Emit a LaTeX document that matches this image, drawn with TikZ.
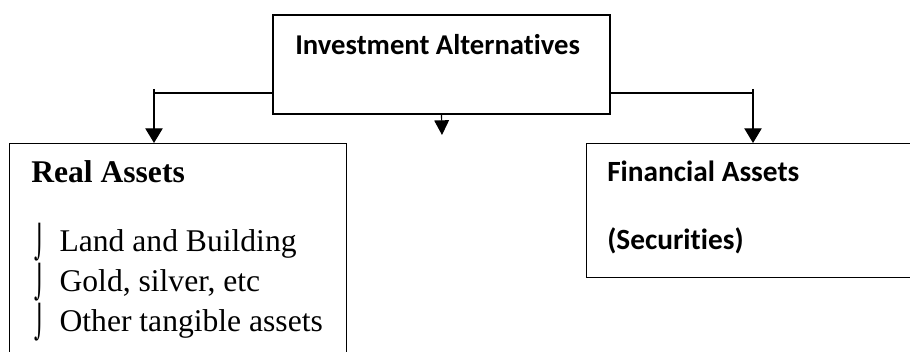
\documentclass[tikz,border=0pt]{standalone}
\usepackage{graphicx}
\usepackage{fontspec}
\setmainfont{Liberation Serif}
\newfontfamily\calibri[Ligatures=NoCommon]{Carlito}
\newfontfamily\dejavu{DejaVu Sans}
\usetikzlibrary{arrows.meta}
\newcommand{\hookbullet}{\makebox[19pt][l]{\raisebox{-1.5pt}{\scalebox{0.65}[1.02]{\dejavu ⌡}}}}

\begin{document}
\begin{tikzpicture}[x=0.75pt,y=-0.75pt,
      box/.style={draw,line width=0.9pt,inner sep=0pt},
      arrow/.style={line width=0.9pt,-{Triangle[width=13pt,length=11pt]}},
      sans/.style={font=\calibri\fontsize{21.5}{26}\selectfont\bfseries,inner sep=0pt},
      serif/.style={font=\fontsize{23.7}{28}\selectfont,inner sep=0pt}]
      \clip (0,0) rectangle (910,352);
      % boxes
      \node (invest)[box,minimum width=337*0.75pt,minimum height=99*0.75pt] at (441.5,64.5) {};
      \node (real)[box,minimum width=337*0.75pt,minimum height=240*0.75pt,anchor=north west] at (9,143) {};
      \node (fin)[box,minimum width=340*0.75pt,minimum height=134*0.75pt,anchor=north west] at (586,143) {};
      % texts
      \node (investtext)[sans,anchor=base west] at (295,55) {Investment Alternatives};
      \node (realtext)[serif,font=\fontsize{23.7}{28}\selectfont\bfseries,anchor=base west] at (31,183) {Real Assets};
      \node (land)[serif,anchor=base west] at (34,252) {\hookbullet Land and Building};
      \node (gold)[serif,anchor=base west] at (34,292) {\hookbullet Gold, silver, etc};
      \node (other)[serif,anchor=base west] at (34,332) {\hookbullet Other tangible assets};
      \node (fintext)[sans,font=\calibri\fontsize{22}{26}\selectfont\bfseries,anchor=base west] at (607,182) {Financial Assets};
      \node (sectext)[sans,font=\calibri\fontsize{22}{26}\selectfont\bfseries,anchor=base west] at (607,250) {(Securities)};
      % connectors
      \coordinate (ljoin) at (154,93);
      \coordinate (rjoin) at (753,93);
      \coordinate (mid) at (442,135);
      \draw[line width=0.9pt] (invest.west |- ljoin) -- (ljoin);
      \draw[arrow] ([yshift=3pt]ljoin) -- (ljoin |- real.north);
      \draw[line width=0.9pt] (invest.east |- rjoin) -- (rjoin);
      \draw[arrow] ([yshift=3pt]rjoin) -- (rjoin |- fin.north);
      \draw[arrow,-{Triangle[width=11pt,length=11pt]}] (invest.south) -- (mid);
\end{tikzpicture}
\end{document}
